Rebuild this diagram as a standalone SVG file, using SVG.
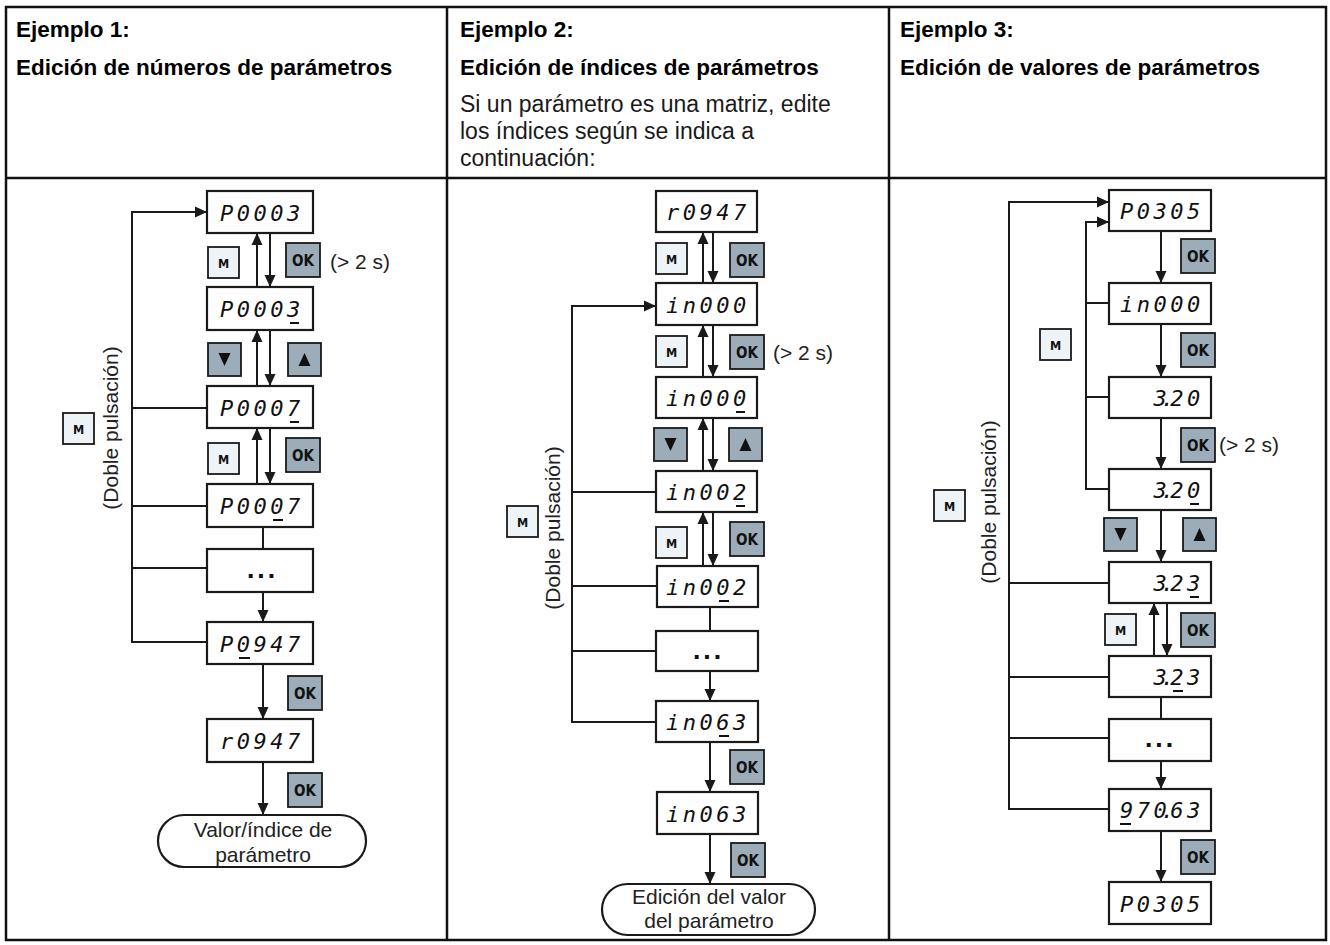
<svg xmlns="http://www.w3.org/2000/svg" xmlns:xlink="http://www.w3.org/1999/xlink" width="1330" height="945" viewBox="0 0 1330 945">
<style>
.frame{fill:none;stroke:#111;stroke-width:2.5}
.box{fill:#fff;stroke:#1a1a1a;stroke-width:2.2}
.ln{fill:none;stroke:#1a1a1a;stroke-width:2}
.bl{fill:#eef3f8;stroke:#1a1a1a;stroke-width:1.8}
.bd{fill:#9cacb9;stroke:#1a1a1a;stroke-width:1.8}
.bt{font-family:"DejaVu Sans Condensed","DejaVu Sans",sans-serif;font-weight:bold;fill:#111;text-anchor:middle}
.seg{font-family:"DejaVu Sans Mono",monospace;font-style:italic;font-size:22px;fill:#111}
.ul{stroke:#111;stroke-width:2}
.dots{font-family:"DejaVu Sans",sans-serif;font-weight:bold;font-size:22px;fill:#111;text-anchor:middle;letter-spacing:2px}
.hd{font-family:"Liberation Sans",Arial,sans-serif;font-weight:bold;font-size:22.5px;fill:#000}
.tx{font-family:"Liberation Sans",Arial,sans-serif;font-size:23px;fill:#1a1a1a}
.lb{font-family:"Liberation Sans",Arial,sans-serif;font-size:21px;fill:#222}
.mid{text-anchor:middle}
</style>
<defs>
<marker id="ah" viewBox="0 0 12 12" refX="12" refY="6" markerWidth="12" markerHeight="12" markerUnits="userSpaceOnUse" orient="auto">
<path d="M0,0.5 L12,6 L0,11.5 z" fill="#1a1a1a"/>
</marker>
<g id="bM"><rect class="bl" x="0" y="0" width="31" height="31"/><text class="bt" x="15.5" y="20.5" font-size="12.5">M</text></g>
<g id="bOK"><rect class="bd" x="0" y="0" width="34" height="34"/><text class="bt" x="17" y="22.5" font-size="15">OK</text></g>
<g id="bDn"><rect class="bd" x="0" y="0" width="33" height="33"/><polygon points="10.5,10 22.5,10 16.5,23" fill="#111"/></g>
<g id="bUp"><rect class="bd" x="0" y="0" width="33" height="33"/><polygon points="10.5,23 22.5,23 16.5,10" fill="#111"/></g>
</defs>

<g id="table">
<rect class="frame" x="6" y="7" width="1320" height="933"/>
<line class="frame" x1="6" y1="178" x2="1326" y2="178"/>
<line class="frame" x1="447" y1="7" x2="447" y2="940"/>
<line class="frame" x1="889" y1="7" x2="889" y2="940"/>
</g>

<g id="header1">
<text class="hd" x="16" y="37">Ejemplo 1:</text>
<text class="hd" x="16" y="75">Edición de números de parámetros</text>
</g>
<g id="header2">
<text class="hd" x="460" y="37">Ejemplo 2:</text>
<text class="hd" x="460" y="75">Edición de índices de parámetros</text>
<text class="tx" x="460" y="112">Si un parámetro es una matriz, edite</text>
<text class="tx" x="460" y="139">los índices según se indica a</text>
<text class="tx" x="460" y="166">continuación:</text>
</g>
<g id="header3">
<text class="hd" x="900" y="37">Ejemplo 3:</text>
<text class="hd" x="900" y="75">Edición de valores de parámetros</text>
</g>

<g id="connectors">
<!-- column 1 -->
<path class="ln" d="M270,233 V287" marker-end="url(#ah)"/>
<path class="ln" d="M257,287 V233" marker-end="url(#ah)"/>
<path class="ln" d="M270,330 V386" marker-end="url(#ah)"/>
<path class="ln" d="M257,386 V330" marker-end="url(#ah)"/>
<path class="ln" d="M270,428 V484" marker-end="url(#ah)"/>
<path class="ln" d="M257,484 V428" marker-end="url(#ah)"/>
<path class="ln" d="M263,527 V549"/>
<path class="ln" d="M263,592 V622" marker-end="url(#ah)"/>
<path class="ln" d="M263,664 V719" marker-end="url(#ah)"/>
<path class="ln" d="M263,762 V815" marker-end="url(#ah)"/>
<path class="ln" d="M207,642 H132 V212 H207" marker-end="url(#ah)"/>
<path class="ln" d="M132,408 H207 M132,506 H207 M132,568 H207"/>
<!-- column 2 -->
<path class="ln" d="M713,232 V283" marker-end="url(#ah)"/>
<path class="ln" d="M703,283 V232" marker-end="url(#ah)"/>
<path class="ln" d="M713,325 V377" marker-end="url(#ah)"/>
<path class="ln" d="M703,377 V325" marker-end="url(#ah)"/>
<path class="ln" d="M713,418 V471" marker-end="url(#ah)"/>
<path class="ln" d="M703,471 V418" marker-end="url(#ah)"/>
<path class="ln" d="M713,512 V566" marker-end="url(#ah)"/>
<path class="ln" d="M703,566 V512" marker-end="url(#ah)"/>
<path class="ln" d="M710,607 V631"/>
<path class="ln" d="M710,671 V701" marker-end="url(#ah)"/>
<path class="ln" d="M710,742 V792" marker-end="url(#ah)"/>
<path class="ln" d="M710,834 V884" marker-end="url(#ah)"/>
<path class="ln" d="M656,722 H572 V306 H656" marker-end="url(#ah)"/>
<path class="ln" d="M572,492 H656 M572,586 H656 M572,651 H656"/>
<!-- column 3 -->
<path class="ln" d="M1161,231 V283" marker-end="url(#ah)"/>
<path class="ln" d="M1161,324 V377" marker-end="url(#ah)"/>
<path class="ln" d="M1161,418 V469" marker-end="url(#ah)"/>
<path class="ln" d="M1161,510 V562" marker-end="url(#ah)"/>
<path class="ln" d="M1167,603 V656" marker-end="url(#ah)"/>
<path class="ln" d="M1154,656 V603" marker-end="url(#ah)"/>
<path class="ln" d="M1161,697 V719"/>
<path class="ln" d="M1161,761 V789" marker-end="url(#ah)"/>
<path class="ln" d="M1161,831 V882" marker-end="url(#ah)"/>
<path class="ln" d="M1109,809 H1009 V202 H1109" marker-end="url(#ah)"/>
<path class="ln" d="M1009,583 H1109 M1009,677 H1109 M1009,738 H1109"/>
<path class="ln" d="M1109,489 H1086 V222 H1109" marker-end="url(#ah)"/>
<path class="ln" d="M1086,303 H1109 M1086,397 H1109"/>
</g>

<!-- column 1 nodes -->
<g id="c1_d1"><rect class="box" x="207" y="191" width="106" height="42"/><text class="seg" x="220 236.7 253.5 270.2 287" y="221">P0003</text></g>
<g id="c1_d2"><rect class="box" x="207" y="287" width="106" height="43"/><text class="seg" x="220 236.7 253.5 270.2 287" y="317">P0003</text><line class="ul" x1="290" y1="323" x2="299" y2="323"/></g>
<g id="c1_d3"><rect class="box" x="207" y="386" width="106" height="42"/><text class="seg" x="220 236.7 253.5 270.2 287" y="416">P0007</text><line class="ul" x1="290" y1="422" x2="299" y2="422"/></g>
<g id="c1_d4"><rect class="box" x="207" y="484" width="106" height="43"/><text class="seg" x="220 236.7 253.5 270.2 287" y="514">P0007</text><line class="ul" x1="273" y1="520" x2="283" y2="520"/></g>
<g id="c1_dots"><rect class="box" x="207" y="549" width="106" height="43"/><text class="dots" x="262" y="578">...</text></g>
<g id="c1_d5"><rect class="box" x="207" y="622" width="106" height="42"/><text class="seg" x="220 236.7 253.5 270.2 287" y="652">P0947</text><line class="ul" x1="239" y1="658" x2="250" y2="658"/></g>
<g id="c1_d6"><rect class="box" x="207" y="719" width="106" height="43"/><text class="seg" x="220 236.7 253.5 270.2 287" y="749">r0947</text></g>
<g id="c1_end"><rect class="box" x="158" y="815" width="208" height="52" rx="26"/><text class="lb mid" x="263" y="837">Valor/índice de</text><text class="lb mid" x="263" y="862">parámetro</text></g>
<g id="c1_keys">
<use xlink:href="#bM" x="208" y="247"/>
<use xlink:href="#bOK" x="286" y="243"/>
<text class="lb" x="330" y="269">(&gt; 2 s)</text>
<use xlink:href="#bDn" x="208" y="343"/>
<use xlink:href="#bUp" x="288" y="343"/>
<use xlink:href="#bM" x="208" y="443"/>
<use xlink:href="#bOK" x="286" y="438"/>
<use xlink:href="#bOK" x="288" y="676"/>
<use xlink:href="#bOK" x="288" y="773"/>
<use xlink:href="#bM" x="63" y="413"/>
<text class="lb mid" transform="translate(118,428) rotate(-90)">(Doble pulsación)</text>
</g>

<!-- column 2 nodes -->
<g id="c2_d1"><rect class="box" x="656" y="191" width="101" height="41"/><text class="seg" x="666 682.7 699.5 716.2 733" y="220">r0947</text></g>
<g id="c2_d2"><rect class="box" x="656" y="283" width="101" height="42"/><text class="seg" x="666 682.7 699.5 716.2 733" y="313">in000</text></g>
<g id="c2_d3"><rect class="box" x="656" y="377" width="101" height="41"/><text class="seg" x="666 682.7 699.5 716.2 733" y="406">in000</text><line class="ul" x1="736" y1="412" x2="745" y2="412"/></g>
<g id="c2_d4"><rect class="box" x="656" y="471" width="101" height="41"/><text class="seg" x="666 682.7 699.5 716.2 733" y="500">in002</text><line class="ul" x1="736" y1="506" x2="745" y2="506"/></g>
<g id="c2_d5"><rect class="box" x="657" y="566" width="101" height="41"/><text class="seg" x="666 682.7 699.5 716.2 733" y="595">in002</text><line class="ul" x1="719" y1="601" x2="729" y2="601"/></g>
<g id="c2_dots"><rect class="box" x="656" y="631" width="102" height="40"/><text class="dots" x="708" y="659">...</text></g>
<g id="c2_d6"><rect class="box" x="656" y="701" width="102" height="41"/><text class="seg" x="666 682.7 699.5 716.2 733" y="730">in063</text><line class="ul" x1="719" y1="736" x2="729" y2="736"/></g>
<g id="c2_d7"><rect class="box" x="657" y="792" width="101" height="42"/><text class="seg" x="666 682.7 699.5 716.2 733" y="822">in063</text></g>
<g id="c2_end"><rect class="box" x="602" y="884" width="213" height="51" rx="25.5"/><text class="lb mid" x="709" y="904">Edición del valor</text><text class="lb mid" x="709" y="928">del parámetro</text></g>
<g id="c2_keys">
<use xlink:href="#bM" x="656" y="243"/>
<use xlink:href="#bOK" x="730" y="243"/>
<use xlink:href="#bM" x="656" y="336"/>
<use xlink:href="#bOK" x="730" y="335"/>
<text class="lb" x="773" y="360">(&gt; 2 s)</text>
<use xlink:href="#bDn" x="654" y="428"/>
<use xlink:href="#bUp" x="729" y="428"/>
<use xlink:href="#bM" x="656" y="527"/>
<use xlink:href="#bOK" x="730" y="522"/>
<use xlink:href="#bOK" x="730" y="750"/>
<use xlink:href="#bOK" x="731" y="843"/>
<use xlink:href="#bM" x="507" y="506"/>
<text class="lb mid" transform="translate(560,528) rotate(-90)">(Doble pulsación)</text>
</g>

<!-- column 3 nodes -->
<g id="c3_d1"><rect class="box" x="1109" y="190" width="102" height="41"/><text class="seg" x="1120 1136.7 1153.5 1170.2 1187" y="219">P0305</text></g>
<g id="c3_d2"><rect class="box" x="1109" y="283" width="102" height="41"/><text class="seg" x="1120 1136.7 1153.5 1170.2 1187" y="312">in000</text></g>
<g id="c3_d3"><rect class="box" x="1109" y="377" width="102" height="41"/><text class="seg" x="1153.5 1161 1170.2 1187" y="406">3.20</text></g>
<g id="c3_d4"><rect class="box" x="1109" y="469" width="102" height="41"/><text class="seg" x="1153.5 1161 1170.2 1187" y="498">3.20</text><line class="ul" x1="1190" y1="504" x2="1199" y2="504"/></g>
<g id="c3_d5"><rect class="box" x="1109" y="562" width="102" height="41"/><text class="seg" x="1153.5 1161 1170.2 1187" y="591">3.23</text><line class="ul" x1="1190" y1="597" x2="1199" y2="597"/></g>
<g id="c3_d6"><rect class="box" x="1109" y="656" width="102" height="41"/><text class="seg" x="1153.5 1161 1170.2 1187" y="685">3.23</text><line class="ul" x1="1173" y1="691" x2="1183" y2="691"/></g>
<g id="c3_dots"><rect class="box" x="1109" y="719" width="102" height="42"/><text class="dots" x="1160" y="747">...</text></g>
<g id="c3_d7"><rect class="box" x="1109" y="789" width="102" height="42"/><text class="seg" x="1120 1136.7 1153.5 1161 1170.2 1187" y="818">970.63</text><line class="ul" x1="1120" y1="824" x2="1131" y2="824"/></g>
<g id="c3_d8"><rect class="box" x="1109" y="882" width="102" height="42"/><text class="seg" x="1120 1136.7 1153.5 1170.2 1187" y="912">P0305</text></g>
<g id="c3_keys">
<use xlink:href="#bOK" x="1181" y="239"/>
<use xlink:href="#bOK" x="1181" y="333"/>
<use xlink:href="#bM" x="1040" y="329"/>
<use xlink:href="#bOK" x="1181" y="428"/>
<text class="lb" x="1219" y="452">(&gt; 2 s)</text>
<use xlink:href="#bDn" x="1104" y="518"/>
<use xlink:href="#bUp" x="1183" y="518"/>
<use xlink:href="#bM" x="1105" y="614"/>
<use xlink:href="#bOK" x="1181" y="613"/>
<use xlink:href="#bOK" x="1181" y="840"/>
<use xlink:href="#bM" x="934" y="490"/>
<text class="lb mid" transform="translate(996,502) rotate(-90)">(Doble pulsación)</text>
</g>
</svg>
